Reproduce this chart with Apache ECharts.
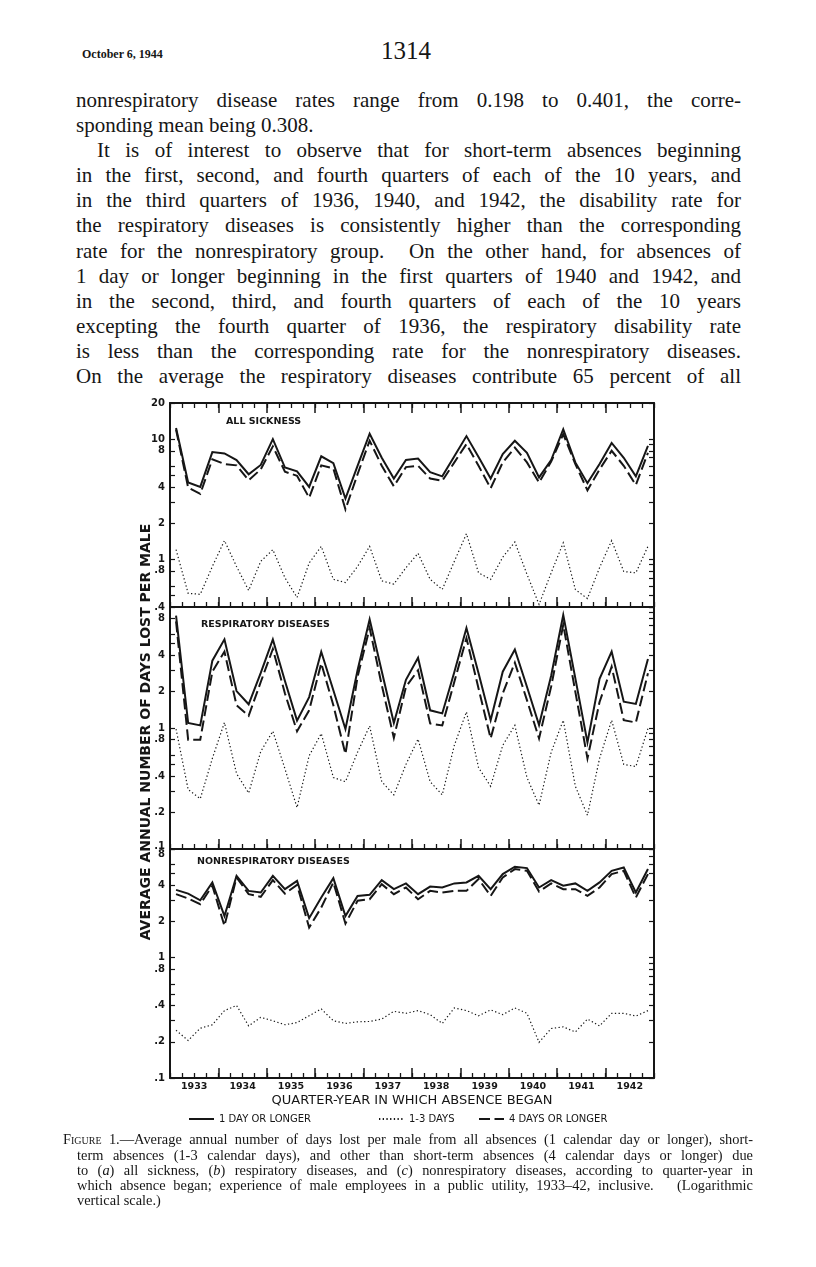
<!DOCTYPE html>
<html><head><meta charset="utf-8"><title>Figure 1 – days lost per male, 1933–42</title>
<script src="https://cdn.jsdelivr.net/npm/echarts@6.0.0/dist/echarts.min.js"></script>
<style>
html,body{margin:0;padding:0;background:#fff;}
body{width:816px;height:1267px;position:relative;overflow:hidden;color:#161616;font-family:"Liberation Serif","DejaVu Serif",serif;}
.t{position:absolute;white-space:nowrap;}
.j{text-align:justify;text-align-last:justify;}
.bd{left:76px;width:665px;font-size:21px;line-height:24px;}
.cp{font-size:14.4px;line-height:15px;}
.sc{font-variant:small-caps;}
#chart{position:absolute;left:0;top:380px;width:816px;height:752px;}
</style></head><body>
<div class="t" style="left:82px;top:47px;font-size:12px;font-weight:bold;">October 6, 1944</div>
<div class="t" style="left:381px;top:37px;font-size:25px;">1314</div>

<div class="t bd j" style="top:88px;">nonrespiratory disease rates range from 0.198 to 0.401, the corre-</div>
<div class="t bd" style="top:113px;">sponding mean being 0.308.</div>
<div class="t bd j" style="top:138px;left:97px;width:644px;">It is of interest to observe that for short-term absences beginning</div>
<div class="t bd j" style="top:163px;">in the first, second, and fourth quarters of each of the 10 years, and</div>
<div class="t bd j" style="top:188px;">in the third quarters of 1936, 1940, and 1942, the disability rate for</div>
<div class="t bd j" style="top:213px;">the respiratory diseases is consistently higher than the corresponding</div>
<div class="t bd j" style="top:239px;">rate for the nonrespiratory group.&nbsp; On the other hand, for absences of</div>
<div class="t bd j" style="top:264px;">1 day or longer beginning in the first quarters of 1940 and 1942, and</div>
<div class="t bd j" style="top:289px;">in the second, third, and fourth quarters of each of the 10 years</div>
<div class="t bd j" style="top:314px;">excepting the fourth quarter of 1936, the respiratory disability rate</div>
<div class="t bd j" style="top:339px;">is less than the corresponding rate for the nonrespiratory diseases.</div>
<div class="t bd j" style="top:364px;">On the average the respiratory diseases contribute 65 percent of all</div>

<div id="chart"></div>

<div class="t cp j" style="top:1132px;left:63px;width:690px;"><span class="sc">Figure</span> 1.—Average annual number of days lost per male from all absences (1 calendar day or longer), short-</div>
<div class="t cp j" style="top:1148px;left:77px;width:676px;">term absences (1-3 calendar days), and other than short-term absences (4 calendar days or longer) due</div>
<div class="t cp j" style="top:1163px;left:77px;width:676px;">to (<i>a</i>) all sickness, (<i>b</i>) respiratory diseases, and (<i>c</i>) nonrespiratory diseases, according to quarter-year in</div>
<div class="t cp j" style="top:1178px;left:77px;width:676px;">which absence began; experience of male employees in a public utility, 1933–42, inclusive.&nbsp;&nbsp; (Logarithmic</div>
<div class="t cp" style="top:1193px;left:77px;">vertical scale.)</div>

<script>
// ---------------- data ----------------
const years = ['1933','1934','1935','1936','1937','1938','1939','1940','1941','1942'];
const quarterNames = ['Q1','Q2','Q3','Q4'];

// (a) All sickness
const allOne   = [12.4,4.35,4.0,7.8,7.6,6.7,5.1,6.1,10.0,5.8,5.4,4.0,7.2,6.3,3.2,6.0,11.1,7.0,4.7,6.7,6.9,5.3,4.9,7.2,10.6,7.1,4.7,7.5,9.7,7.7,4.8,6.7,12.1,6.4,4.3,6.2,9.3,7.0,4.9,8.8];
const allShort = [1.2,0.52,0.51,0.87,1.43,0.87,0.55,0.96,1.2,0.70,0.48,0.93,1.28,0.68,0.64,0.87,1.28,0.66,0.62,0.85,1.12,0.68,0.56,0.96,1.63,0.77,0.68,1.04,1.39,0.75,0.42,0.77,1.37,0.56,0.47,0.85,1.43,0.79,0.77,1.28];
const allFour  = [12.0,3.95,3.5,6.8,6.2,6.05,4.55,5.6,8.7,5.35,4.95,3.25,6.05,5.7,2.6,5.1,9.7,6.0,4.05,5.85,6.0,4.7,4.5,6.4,9.1,6.0,3.9,6.4,8.5,6.4,4.35,6.5,11.0,6.2,3.75,5.6,8.0,6.0,4.15,7.7];

// (b) Respiratory diseases
const respOne   = [8.5,1.1,1.05,3.6,5.4,2.02,1.57,2.85,5.4,2.45,1.15,1.8,4.27,2.05,0.98,3.0,7.9,2.95,1.1,2.5,3.8,1.4,1.32,2.9,6.7,2.83,1.16,2.92,4.46,2.19,1.06,2.7,8.6,2.57,0.76,2.55,4.28,1.65,1.58,3.72];
const respShort = [0.98,0.31,0.26,0.56,1.11,0.42,0.29,0.64,0.94,0.46,0.22,0.59,0.9,0.39,0.36,0.63,1.04,0.36,0.28,0.5,0.81,0.36,0.28,0.72,1.36,0.47,0.33,0.72,1.05,0.39,0.23,0.63,1.16,0.33,0.19,0.56,1.16,0.5,0.48,0.99];
const respFour  = [7.6,0.8,0.8,2.92,4.28,1.54,1.26,2.4,4.5,1.93,0.94,1.4,3.42,1.54,0.61,2.65,6.7,2.26,0.83,2.19,3.0,1.09,1.05,2.41,5.53,2.12,0.82,1.93,3.47,1.7,0.82,2.2,7.13,1.99,0.56,1.64,3.21,1.16,1.11,2.83];

// (c) Nonrespiratory diseases
const nonOne   = [3.66,3.41,3.0,4.22,2.22,4.79,3.59,3.48,4.79,3.71,4.35,2.13,3.16,4.58,2.22,3.26,3.33,4.41,3.71,4.14,3.37,3.9,3.83,4.14,4.22,4.79,3.71,4.95,5.7,5.55,3.83,4.41,3.96,4.14,3.59,4.22,5.27,5.62,3.48,5.45];
const nonShort = [0.249,0.205,0.259,0.277,0.363,0.401,0.271,0.319,0.299,0.277,0.289,0.329,0.375,0.299,0.284,0.293,0.295,0.309,0.358,0.345,0.363,0.336,0.284,0.382,0.363,0.329,0.368,0.336,0.382,0.345,0.198,0.258,0.266,0.241,0.309,0.271,0.345,0.345,0.327,0.363];
const nonFour  = [3.37,3.1,2.78,3.96,1.84,4.64,3.37,3.2,4.41,3.41,4.03,1.78,2.61,4.22,1.92,2.97,3.06,4.08,3.37,3.83,3.06,3.59,3.48,3.59,3.59,4.5,3.26,4.64,5.45,5.27,3.55,4.14,3.71,3.71,3.26,3.83,4.95,5.27,3.16,4.95];

// tick labels / tick values of the logarithmic scales
const labelsA = [0.4, 0.8, 1, 2, 4, 8, 10, 20];
const labelsBC = [0.1, 0.2, 0.4, 0.8, 1, 2, 4, 8];
const leftTicksA = [0.4,0.5,0.6,0.8,1,2,3,4,5,6,8,10,20];
const leftTicksBC = [0.1,0.2,0.3,0.4,0.5,0.6,0.8,1,2,3,4,5,6,8];
const rightTicksA = [0.4,0.5,0.6,0.7,0.8,0.9,1,2,3,4,5,6,7,8,9,10,20];
const rightTicksBC = [0.1,0.2,0.3,0.4,0.5,0.6,0.7,0.8,0.9,1,2,3,4,5,6,7,8,9,10];

const panelTitles = ['ALL SICKNESS', 'RESPIRATORY DISEASES', 'NONRESPIRATORY DISEASES'];
const seriesNames = ['1 DAY OR LONGER', '1-3 DAYS', '4 DAYS OR LONGER'];
const xTitle = 'QUARTER-YEAR IN WHICH ABSENCE BEGAN';
const yTitle = 'AVERAGE ANNUAL NUMBER OF DAYS LOST PER MALE';

// ---------------- layout / style ----------------
const INK = '#161616';
const SANS = '"DejaVu Sans", "Liberation Sans", sans-serif';
const quarters = years.flatMap(y => quarterNames.map(q => y + ' ' + q));
const panelData = [
  [allOne, allShort, allFour],
  [respOne, respShort, respFour],
  [nonOne, nonShort, nonFour]
];
const panelLayout = [
  {top: 23,  height: 204, min: 0.4, max: 20, labels: labelsA,  lt: leftTicksA,  rt: rightTicksA,  tx: 226, ty: 43},
  {top: 227, height: 242, min: 0.1, max: 10, labels: labelsBC, lt: leftTicksBC, rt: rightTicksBC, tx: 201, ty: 246},
  {top: 469, height: 229, min: 0.1, max: 8,  labels: labelsBC, lt: leftTicksBC, rt: rightTicksBC, tx: 197, ty: 483}
];
const lineStyles = [
  {color: INK, width: 2, type: 'solid', join: 'miter'},
  {color: INK, width: 1.2, type: [1.3, 2.4], join: 'miter'},
  {color: INK, width: 2, type: [11, 4.5], join: 'miter'}
];

function fmtTick(v, g) {
  const r = Math.round(v * 1000) / 1000;
  let s = r < 1 ? String(r).replace(/^0/, '') : String(r);
  if (g === 1 && r === 0.1) return '{hi|' + s + '}';
  if (g === 2 && r === 8) return '{lo|' + s + '}';
  return s;
}

const grid = [], xAxis = [], yAxis = [], series = [];
panelLayout.forEach((p, g) => {
  grid.push({left: 170, width: 484, top: p.top, height: p.height});
  const qIndex = xAxis.length;
  const sides = g === 0 ? ['bottom', 'top'] : ['bottom'];
  sides.forEach(pos => {
    xAxis.push({
      type: 'category', gridIndex: g, position: pos, data: quarters, boundaryGap: true,
      axisLine: {show: true, onZero: false, lineStyle: {color: INK, width: 2}},
      axisTick: {show: true, inside: true, length: 5, interval: 0, lineStyle: {color: INK, width: 1.3}},
      axisLabel: {show: false}, splitLine: {show: false}
    });
    const withLabels = (g === 2 && pos === 'bottom');
    xAxis.push({
      type: 'category', gridIndex: g, position: pos, data: years, boundaryGap: true,
      axisLine: {show: false, onZero: false},
      axisTick: {show: true, inside: true, length: 10, interval: 0, lineStyle: {color: INK, width: 1.5}},
      axisLabel: {show: withLabels, interval: 0, margin: 4, fontSize: 9.5, fontWeight: 'bold', fontFamily: SANS, color: INK},
      splitLine: {show: false},
      name: withLabels ? xTitle : '', nameLocation: 'middle', nameGap: 16,
      nameTextStyle: {fontSize: 13, fontFamily: SANS, color: INK}
    });
  });
  const yIndex = yAxis.length;
  yAxis.push({
    type: 'log', logBase: 10, gridIndex: g, position: 'left', min: p.min, max: p.max,
    axisLine: {show: true, onZero: false, lineStyle: {color: INK, width: 2}},
    axisTick: {show: true, inside: true, length: 5, customValues: p.lt, lineStyle: {color: INK, width: 1.2}},
    axisLabel: {show: true, customValues: p.labels, formatter: v => fmtTick(v, g), margin: 5,
      fontSize: 10, fontWeight: 'bold', fontFamily: SANS, color: INK,
      rich: {hi: {padding: [0, 0, 6, 0], fontSize: 10, fontWeight: 'bold', fontFamily: SANS, color: INK},
             lo: {padding: [10, 0, 0, 0], fontSize: 10, fontWeight: 'bold', fontFamily: SANS, color: INK}}},
    splitLine: {show: false}, minorTick: {show: false}
  });
  yAxis.push({
    type: 'log', logBase: 10, gridIndex: g, position: 'right', min: p.min, max: p.max,
    axisLine: {show: true, onZero: false, lineStyle: {color: INK, width: 2}},
    axisTick: {show: true, inside: true, length: 5, customValues: p.rt, lineStyle: {color: INK, width: 1.2}},
    axisLabel: {show: false}, splitLine: {show: false}, minorTick: {show: false}
  });
  panelData[g].forEach((arr, k) => {
    series.push({
      type: 'line', name: seriesNames[k], xAxisIndex: qIndex, yAxisIndex: yIndex,
      data: arr, symbol: 'none', showSymbol: false, smooth: false, color: INK,
      itemStyle: {color: INK},
      lineStyle: lineStyles[k], emphasis: {disabled: true}, z: 3 - k
    });
  });
});

const legendCommon = {
  top: 734, itemWidth: 25, itemHeight: 10, itemGap: 0, padding: 0,
  itemStyle: {opacity: 0},
  textStyle: {fontSize: 10, fontFamily: SANS, color: INK}
};
const legend = [
  Object.assign({data: [seriesNames[0]], left: 188}, legendCommon),
  Object.assign({data: [seriesNames[1]], left: 378}, legendCommon),
  Object.assign({data: [seriesNames[2]], left: 478}, legendCommon)
];

const graphic = panelLayout.map((p, g) => ({
  type: 'text', left: p.tx, top: p.ty - 6, silent: true,
  style: {text: panelTitles[g], fontSize: 9.5, fontWeight: 'bold', fontFamily: SANS, fill: INK}
}));
graphic.push({
  type: 'text', x: 146, y: 352, rotation: Math.PI / 2, silent: true,
  style: {text: yTitle, fontSize: 14, fontWeight: 'bold', fontFamily: SANS, fill: INK, align: 'center', verticalAlign: 'middle'}
});

const chart = echarts.init(document.getElementById('chart'), null, {renderer: 'canvas'});
chart.setOption({
  animation: false,
  backgroundColor: 'transparent',
  grid, xAxis, yAxis, series, legend, graphic,
  tooltip: {show: false}
});
</script>
</body></html>
